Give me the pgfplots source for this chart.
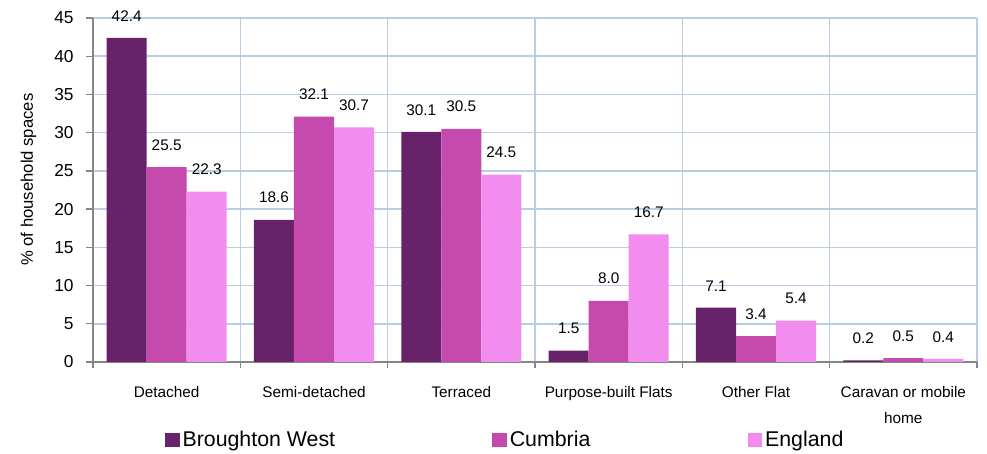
\documentclass[border=0pt]{standalone}
\usepackage{pgfplots}
\pgfplotsset{compat=1.18}
\usepackage{fontspec}
\setmainfont{Liberation Sans}
\usetikzlibrary{calc}
\definecolor{cBW}{HTML}{68226A}
\definecolor{cCu}{HTML}{C64AAE}
\definecolor{cEn}{HTML}{F28CEF}
\definecolor{gridc}{HTML}{B9CDE5}
\definecolor{axc}{HTML}{868686}
\begin{document}
\begin{tikzpicture}
\begin{axis}[
  scale only axis, width=663pt, height=258pt,
  xmin=-0.5, xmax=5.5, ymin=0, ymax=45,
  ytick={0,5,...,45},
  xtick={0,...,5},
  xticklabels={Detached, Semi-detached, Terraced, Purpose-built Flats, Other Flat, {Caravan or mobile\\home}},
  minor xtick={-0.5,0.5,...,5.5},
  ymajorgrids, xminorgrids, xmajorgrids=false,
  grid style={draw=gridc, line width=1.2pt},
  minor grid style={draw=gridc, line width=1.2pt},
  axis x line*=bottom, axis y line*=left,
  axis line style={draw=axc, line width=1.1pt, -},
  tick align=outside,
  major tick length=5pt, minor tick length=4.5pt,
  every major x tick/.append style={draw=none},
  tick style={draw=axc, line width=1pt},
  yticklabel style={font=\fontsize{13}{15}\selectfont, /pgf/number format/assume math mode=true, xshift=-6pt},
  xticklabel style={font=\fontsize{11.5}{19.5}\selectfont, align=center, yshift=-10pt},
  ylabel={\% of household spaces},
  ylabel style={font=\fontsize{12.5}{14}\selectfont, at={(axis description cs:-0.073,0.53)}, anchor=center},
  ybar, bar width=0.2716,
  clip=false,
  nodes near coords,
  nodes near coords style={font=\fontsize{11.5}{13}\selectfont, text=black, yshift=9pt,
     /pgf/number format/.cd, fixed, fixed zerofill, precision=1, assume math mode=true},
  legend columns=3,
  legend style={draw=none, at={(0.0814,-0.2267)}, anchor=west, inner sep=0pt,
     font=\fontsize{16}{19}\selectfont,
     /tikz/every even column/.append style={column sep=116pt}},
  legend image code/.code={\fill[#1] (0pt,-5.5pt) rectangle (11pt,5.5pt);},
]
\addplot[fill=cBW, draw=none, bar shift=-0.2716] coordinates {(0,42.4) (1,18.6) (2,30.1) (3,1.5) (4,7.1) (5,0.2)};
\addplot[fill=cCu, draw=none, bar shift=0] coordinates {(0,25.5) (1,32.1) (2,30.5) (3,8.0) (4,3.4) (5,0.5)};
\addplot[fill=cEn, draw=none, bar shift=0.2716] coordinates {(0,22.3) (1,30.7) (2,24.5) (3,16.7) (4,5.4) (5,0.4)};
\legend{Broughton West, Cumbria, England}
\end{axis}
\pgfresetboundingbox
\path ($(current axis.south west)+(-69.75pt,-69pt)$) rectangle ($(current axis.north east)+(7.5pt,13.5pt)$);
\end{tikzpicture}
\end{document}
